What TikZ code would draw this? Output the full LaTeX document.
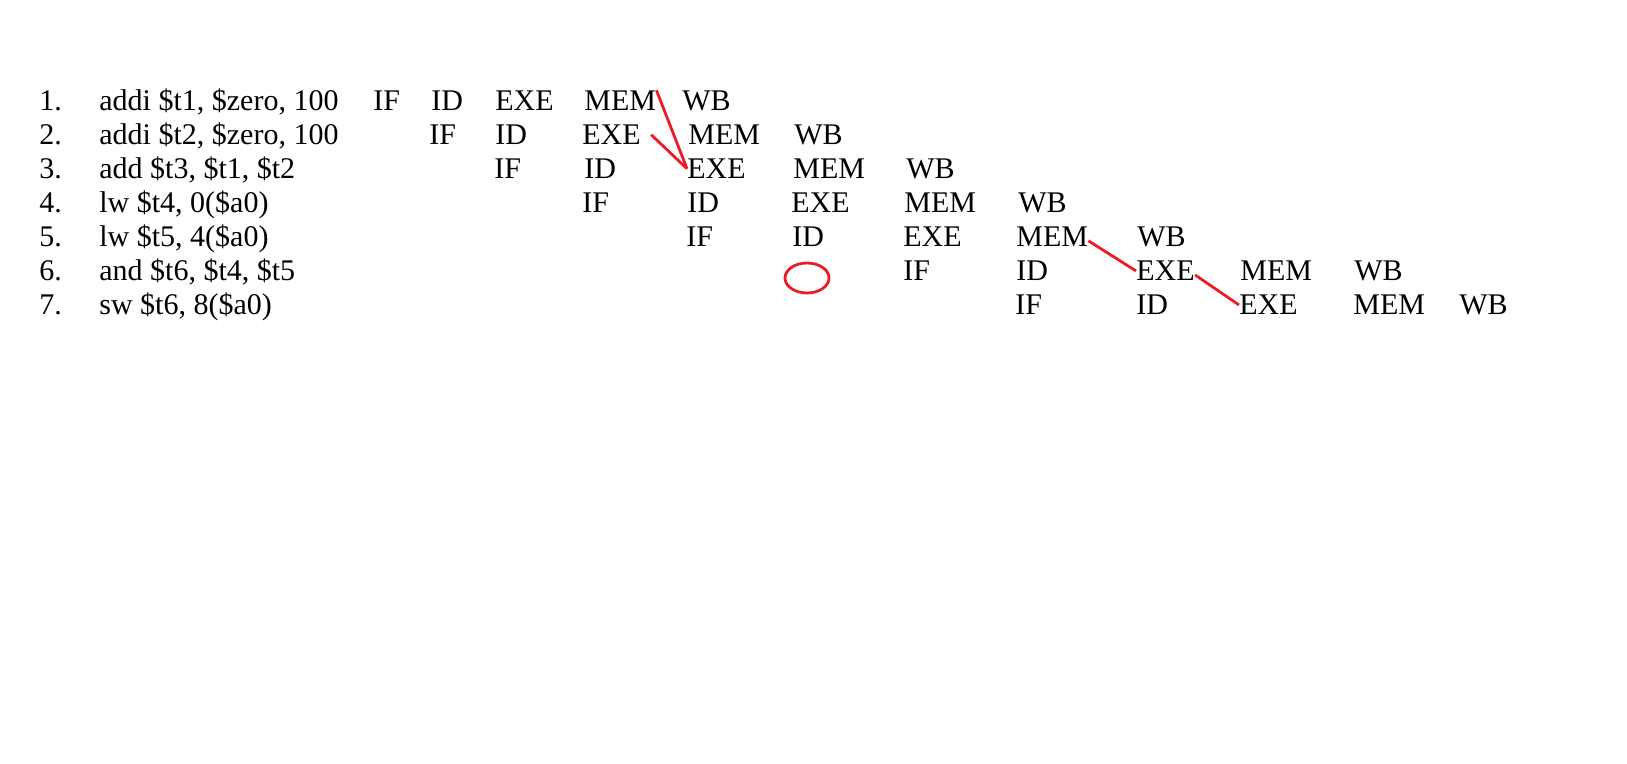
\documentclass[tikz,border=0pt]{standalone}
\usepackage{fontspec}
\setmainfont{Liberation Serif}
\usetikzlibrary{shapes.geometric}
\definecolor{paintred}{RGB}{237,28,36}
\tikzset{
  stage/.style={anchor=base west, inner sep=0pt, font=\fontsize{15}{18}\selectfont},
  hazard/.style={paintred, line width=1.4pt},
  bubble/.style={draw=paintred, line width=1.4pt, ellipse, inner sep=0pt,
                 minimum width=22pt, minimum height=15pt},
}
\begin{document}
\begin{tikzpicture}[x=0.5pt,y=-0.5pt]
                        \useasboundingbox (0,0) rectangle (1627,764);

                        \foreach \r/\instr in {%
                            1/{addi \$t1, \$zero, 100},
                            2/{addi \$t2, \$zero, 100},
                            3/{add \$t3, \$t1, \$t2},
                            4/{lw \$t4, 0(\$a0)},
                            5/{lw \$t5, 4(\$a0)},
                            6/{and \$t6, \$t4, \$t5},
                            7/{sw \$t6, 8(\$a0)}%
                            }{
                            \pgfmathsetmacro{\y}{110.4+34.07*(\r-1)}
                            \node[stage] (num\r) at (39,\y) {\r.};
                            \node[stage] (ins\r) at (99,\y) {\instr};
                        }

                        % IF / ID / EXE / MEM / WB columns of each row
                        \foreach \r/\a/\b/\c/\d/\e in {%
                            1/373/431/495/584/682,
                            2/429/495/582/688/794,
                            3/494/584/687/793/906,
                            4/582/687/791/904/1018,
                            5/686/792/903/1016/1137,
                            6/903/1016/1136/1240/1354,
                            7/1015/1136/1239/1353/1459%
                            }{
                            \pgfmathsetmacro{\y}{110.4+34.07*(\r-1)}
                            \node[stage] (if\r) at (\a,\y) {IF};
                            \node[stage] (id\r) at (\b,\y) {ID};
                            \node[stage] (exe\r) at (\c,\y) {EXE};
                            \node[stage] (mem\r) at (\d,\y) {MEM};
                            \node[stage] (wb\r) at (\e,\y) {WB};
                        }

                        \node[bubble] (stall6) at (807,278) {};

                        \draw[hazard] (mem1.north east) -- (exe3.west);
                        \draw[hazard] ([xshift=5pt]exe2.east) -- (exe3.west);
                        \draw[hazard] ([yshift=-2pt]mem5.east) -- (exe6.west);
                        \draw[hazard] ([yshift=-2pt]exe6.east) -- (exe7.west);

                    \end{tikzpicture}
\end{document}
